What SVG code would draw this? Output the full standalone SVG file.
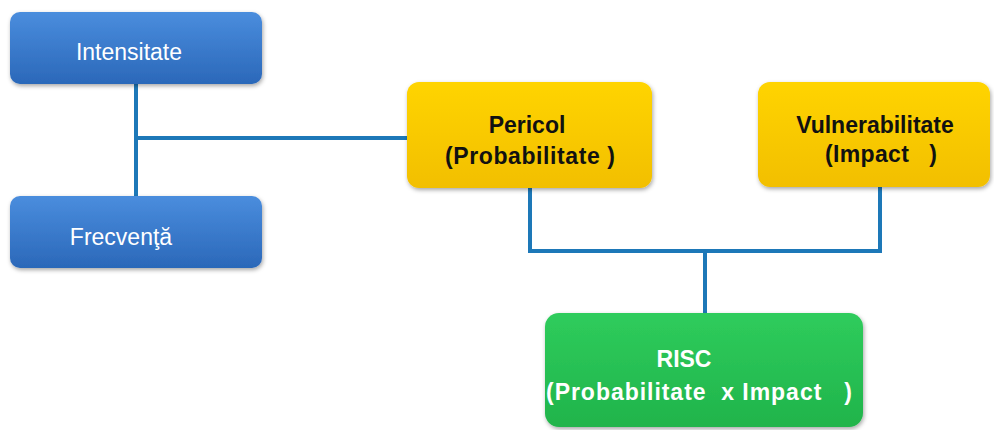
<svg xmlns="http://www.w3.org/2000/svg" width="994" height="430" viewBox="0 0 994 430">
<defs>
<linearGradient id="gb" x1="0" y1="0" x2="0" y2="1"><stop offset="0" stop-color="#4a8ddd"/><stop offset="1" stop-color="#2b68b9"/></linearGradient>
<linearGradient id="gy" x1="0" y1="0" x2="0" y2="1"><stop offset="0" stop-color="#ffd400"/><stop offset="1" stop-color="#f2bf00"/></linearGradient>
<linearGradient id="gg" x1="0" y1="0" x2="0" y2="1"><stop offset="0" stop-color="#2fcc5c"/><stop offset="1" stop-color="#20b44b"/></linearGradient>
<filter id="sh" x="-10%" y="-10%" width="120%" height="130%"><feDropShadow dx="1" dy="2" stdDeviation="2" flood-opacity="0.35"/></filter>
</defs>
<style>
.conn{fill:none;stroke:#1d78b8;stroke-width:4}
.bt{font-family:"Liberation Sans",Arial,sans-serif;font-size:23px;fill:#ffffff;text-anchor:middle}
.yt{font-family:"Liberation Sans",Arial,sans-serif;font-size:23px;font-weight:bold;fill:#111111;text-anchor:middle}
.gt{font-family:"Liberation Sans",Arial,sans-serif;font-size:23px;font-weight:bold;fill:#ffffff;text-anchor:middle}
</style>
<rect width="994" height="430" fill="#ffffff"/>
<g id="connectors">
<path class="conn" d="M136 84 V196 M136 138 H407"/>
<path class="conn" d="M530 188 V251 H880 V187 M705 251 V313"/>
</g>
<g id="intensitate">
<rect x="10" y="12" width="252" height="72" rx="10" fill="url(#gb)" filter="url(#sh)"/>
<text class="bt" x="129" y="60">Intensitate</text>
</g>
<g id="frecventa">
<rect x="10" y="196" width="252" height="72" rx="10" fill="url(#gb)" filter="url(#sh)"/>
<text class="bt" x="121" y="245">Frecvenţă</text>
</g>
<g id="pericol">
<rect x="407" y="82" width="245" height="106" rx="12" fill="url(#gy)" filter="url(#sh)"/>
<text class="yt" x="527" y="133">Pericol</text>
<text class="yt" x="530" y="164" xml:space="preserve" textLength="170">(Probabilitate )</text>
</g>
<g id="vulnerabilitate">
<rect x="758" y="82" width="232" height="105" rx="12" fill="url(#gy)" filter="url(#sh)"/>
<text class="yt" x="875" y="133">Vulnerabilitate</text>
<text class="yt" x="881" y="162" xml:space="preserve" textLength="112">(Impact   )</text>
</g>
<g id="risc">
<rect x="545" y="313" width="318" height="114" rx="14" fill="url(#gg)" filter="url(#sh)"/>
<text class="gt" x="684" y="367">RISC</text>
<text class="gt" x="699" y="400" xml:space="preserve" textLength="306">(Probabilitate  x Impact   )</text>
</g>
</svg>
